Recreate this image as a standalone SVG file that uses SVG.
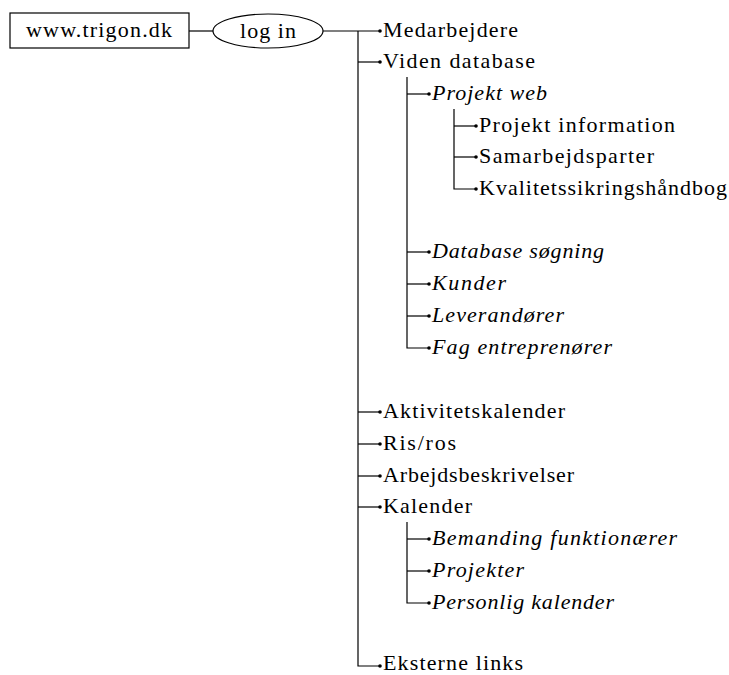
<svg xmlns="http://www.w3.org/2000/svg" width="729" height="675" viewBox="0 0 729 675">
  <style>
    text { font-family: "Liberation Serif", "Times New Roman", serif; font-size: 22px; fill: #000; }
    .it { font-style: italic; }
    .shape { fill: #fff; stroke: #000; stroke-width: 1.2; }
    .wire { fill: none; stroke: #000; stroke-width: 1.2; }
    .dot { fill: #000; }
  </style>
  <rect width="729" height="675" fill="#fff"/>

  <!-- connectors: trunks, branches and end dots -->
  <g id="connectors">
    <line class="wire" x1="189" y1="31" x2="213" y2="31"/>
    <line class="wire" x1="323" y1="31" x2="380" y2="31"/>
    <!-- main trunk ending in the last branch -->
    <path class="wire" d="M358,31 V666 H380"/>
    <line class="wire" x1="358" y1="62" x2="380" y2="62"/>
    <line class="wire" x1="358" y1="412" x2="380" y2="412"/>
    <line class="wire" x1="358" y1="444" x2="380" y2="444"/>
    <line class="wire" x1="358" y1="476" x2="380" y2="476"/>
    <line class="wire" x1="358" y1="507" x2="380" y2="507"/>
    <!-- Viden database sub-trunk -->
    <path class="wire" d="M407,77 V348 H429"/>
    <line class="wire" x1="407" y1="94" x2="429" y2="94"/>
    <line class="wire" x1="407" y1="252" x2="429" y2="252"/>
    <line class="wire" x1="407" y1="284" x2="429" y2="284"/>
    <line class="wire" x1="407" y1="316" x2="429" y2="316"/>
    <!-- Projekt web sub-trunk -->
    <path class="wire" d="M454,109 V189 H476"/>
    <line class="wire" x1="454" y1="126" x2="476" y2="126"/>
    <line class="wire" x1="454" y1="157" x2="476" y2="157"/>
    <!-- Kalender sub-trunk -->
    <path class="wire" d="M407,522 V603 H429"/>
    <line class="wire" x1="407" y1="539" x2="429" y2="539"/>
    <line class="wire" x1="407" y1="571" x2="429" y2="571"/>

    <circle class="dot" cx="380" cy="31" r="1.8"/>
    <circle class="dot" cx="380" cy="62" r="1.8"/>
    <circle class="dot" cx="380" cy="412" r="1.8"/>
    <circle class="dot" cx="380" cy="444" r="1.8"/>
    <circle class="dot" cx="380" cy="476" r="1.8"/>
    <circle class="dot" cx="380" cy="507" r="1.8"/>
    <circle class="dot" cx="380" cy="666" r="1.8"/>
    <circle class="dot" cx="429" cy="94" r="1.8"/>
    <circle class="dot" cx="429" cy="252" r="1.8"/>
    <circle class="dot" cx="429" cy="284" r="1.8"/>
    <circle class="dot" cx="429" cy="316" r="1.8"/>
    <circle class="dot" cx="429" cy="348" r="1.8"/>
    <circle class="dot" cx="476" cy="126" r="1.8"/>
    <circle class="dot" cx="476" cy="157" r="1.8"/>
    <circle class="dot" cx="476" cy="189" r="1.8"/>
    <circle class="dot" cx="429" cy="539" r="1.8"/>
    <circle class="dot" cx="429" cy="571" r="1.8"/>
    <circle class="dot" cx="429" cy="603" r="1.8"/>
  </g>

  <g id="site">
    <rect class="shape" x="10" y="13" width="179" height="35"/>
    <text x="26" y="37" textLength="146" lengthAdjust="spacing">www.trigon.dk</text>
  </g>
  <g id="login">
    <ellipse class="shape" cx="268" cy="31" rx="55" ry="17"/>
    <text x="240" y="38" textLength="56" lengthAdjust="spacing">log in</text>
  </g>

  <g id="medarbejdere"><text x="383" y="37" textLength="135" lengthAdjust="spacing">Medarbejdere</text></g>
  <g id="viden-database"><text x="383" y="68" textLength="152" lengthAdjust="spacing">Viden database</text></g>
  <g id="projekt-web"><text class="it" x="432" y="100" textLength="115" lengthAdjust="spacing">Projekt web</text></g>
  <g id="projekt-information"><text x="479" y="132" textLength="196" lengthAdjust="spacing">Projekt information</text></g>
  <g id="samarbejdsparter"><text x="479" y="163" textLength="175" lengthAdjust="spacing">Samarbejdsparter</text></g>
  <g id="kvalitetssikring"><text x="479" y="195" textLength="248" lengthAdjust="spacing">Kvalitetssikringshåndbog</text></g>
  <g id="database-soegning"><text class="it" x="432" y="258" textLength="172" lengthAdjust="spacing">Database søgning</text></g>
  <g id="kunder"><text class="it" x="432" y="290" textLength="74" lengthAdjust="spacing">Kunder</text></g>
  <g id="leverandoerer"><text class="it" x="432" y="322" textLength="132" lengthAdjust="spacing">Leverandører</text></g>
  <g id="fag-entreprenoerer"><text class="it" x="432" y="354" textLength="180" lengthAdjust="spacing">Fag entreprenører</text></g>
  <g id="aktivitetskalender"><text x="383" y="418" textLength="182" lengthAdjust="spacing">Aktivitetskalender</text></g>
  <g id="ris-ros"><text x="383" y="450" textLength="73" lengthAdjust="spacing">Ris/ros</text></g>
  <g id="arbejdsbeskrivelser"><text x="383" y="482" textLength="191" lengthAdjust="spacing">Arbejdsbeskrivelser</text></g>
  <g id="kalender"><text x="383" y="513" textLength="89" lengthAdjust="spacing">Kalender</text></g>
  <g id="bemanding"><text class="it" x="432" y="545" textLength="245" lengthAdjust="spacing">Bemanding funktionærer</text></g>
  <g id="projekter"><text class="it" x="432" y="577" textLength="92" lengthAdjust="spacing">Projekter</text></g>
  <g id="personlig-kalender"><text class="it" x="432" y="609" textLength="182" lengthAdjust="spacing">Personlig kalender</text></g>
  <g id="eksterne-links"><text x="383" y="670" textLength="140" lengthAdjust="spacing">Eksterne links</text></g>
</svg>
